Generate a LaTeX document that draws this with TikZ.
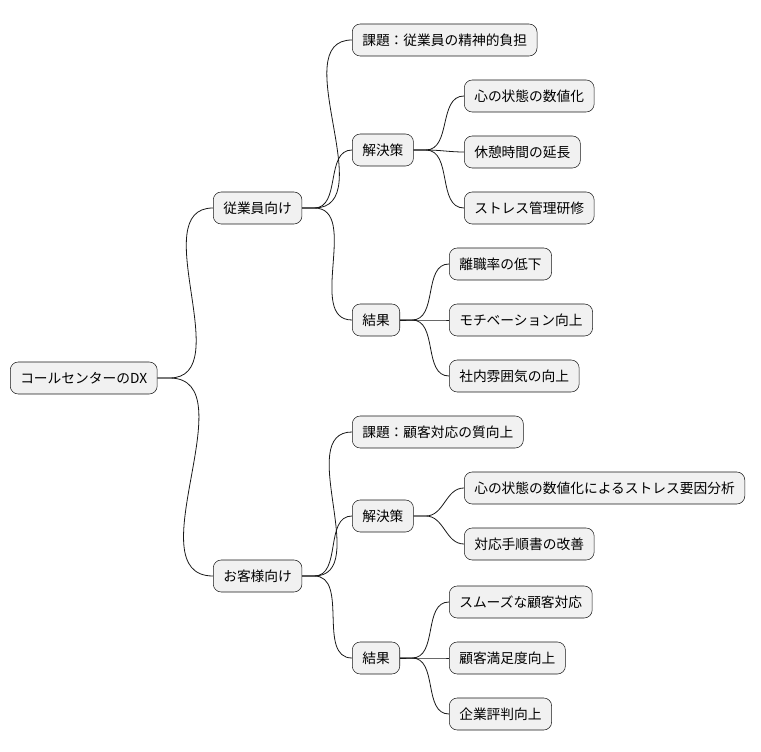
\documentclass[tikz,border=0pt]{standalone}
\usepackage{fontspec}
\setmainfont{Noto Sans CJK JP}
\begin{document}
\begin{tikzpicture}[x=0.75pt,y=-0.75pt]
\definecolor{boxgray}{HTML}{F1F1F1}
\definecolor{linegray}{HTML}{181818}
\tikzset{
  idea/.style={draw=linegray, fill=boxgray, rounded corners=6pt, anchor=west,
    minimum height=24pt, inner xsep=7.5pt, font=\fontsize{10.3}{12}\selectfont},
  branch/.style={draw=linegray, line width=0.6pt}
}
\useasboundingbox (0,0) rectangle (761,752);

\node[idea] (r) at (10,378) {コールセンターのDX};
\node[idea] (e) at (213,208) {従業員向け};
\node[idea] (c) at (213,576) {お客様向け};

\node[idea] (e1) at (352,40) {課題：従業員の精神的負担};
\node[idea] (e2) at (352,150) {解決策};
\node[idea] (e21) at (464,96) {心の状態の数値化};
\node[idea] (e22) at (464,152) {休憩時間の延長};
\node[idea] (e23) at (464,208) {ストレス管理研修};
\node[idea] (e3) at (352,320) {結果};
\node[idea] (e31) at (449,264) {離職率の低下};
\node[idea] (e32) at (449,320) {モチベーション向上};
\node[idea] (e33) at (449,376) {社内雰囲気の向上};

\node[idea] (c1) at (352,432) {課題：顧客対応の質向上};
\node[idea] (c2) at (352,516) {解決策};
\node[idea] (c21) at (464,488) {心の状態の数値化によるストレス要因分析};
\node[idea] (c22) at (464,544) {対応手順書の改善};
\node[idea] (c3) at (352,658) {結果};
\node[idea] (c31) at (449,602) {スムーズな顧客対応};
\node[idea] (c32) at (449,658) {顧客満足度向上};
\node[idea] (c33) at (449,714) {企業評判向上};

\foreach \p/\q in {r/e, r/c, e/e1, e/e2, e/e3, e2/e21, e2/e22, e2/e23,
    e3/e31, e3/e32, e3/e33, c/c1, c/c2, c/c3, c2/c21, c2/c22,
    c3/c31, c3/c32, c3/c33}
  \draw[branch] (\p.east) -- ++(12,0) to[out=0,in=180] (\q.west);
\end{tikzpicture}
\end{document}
